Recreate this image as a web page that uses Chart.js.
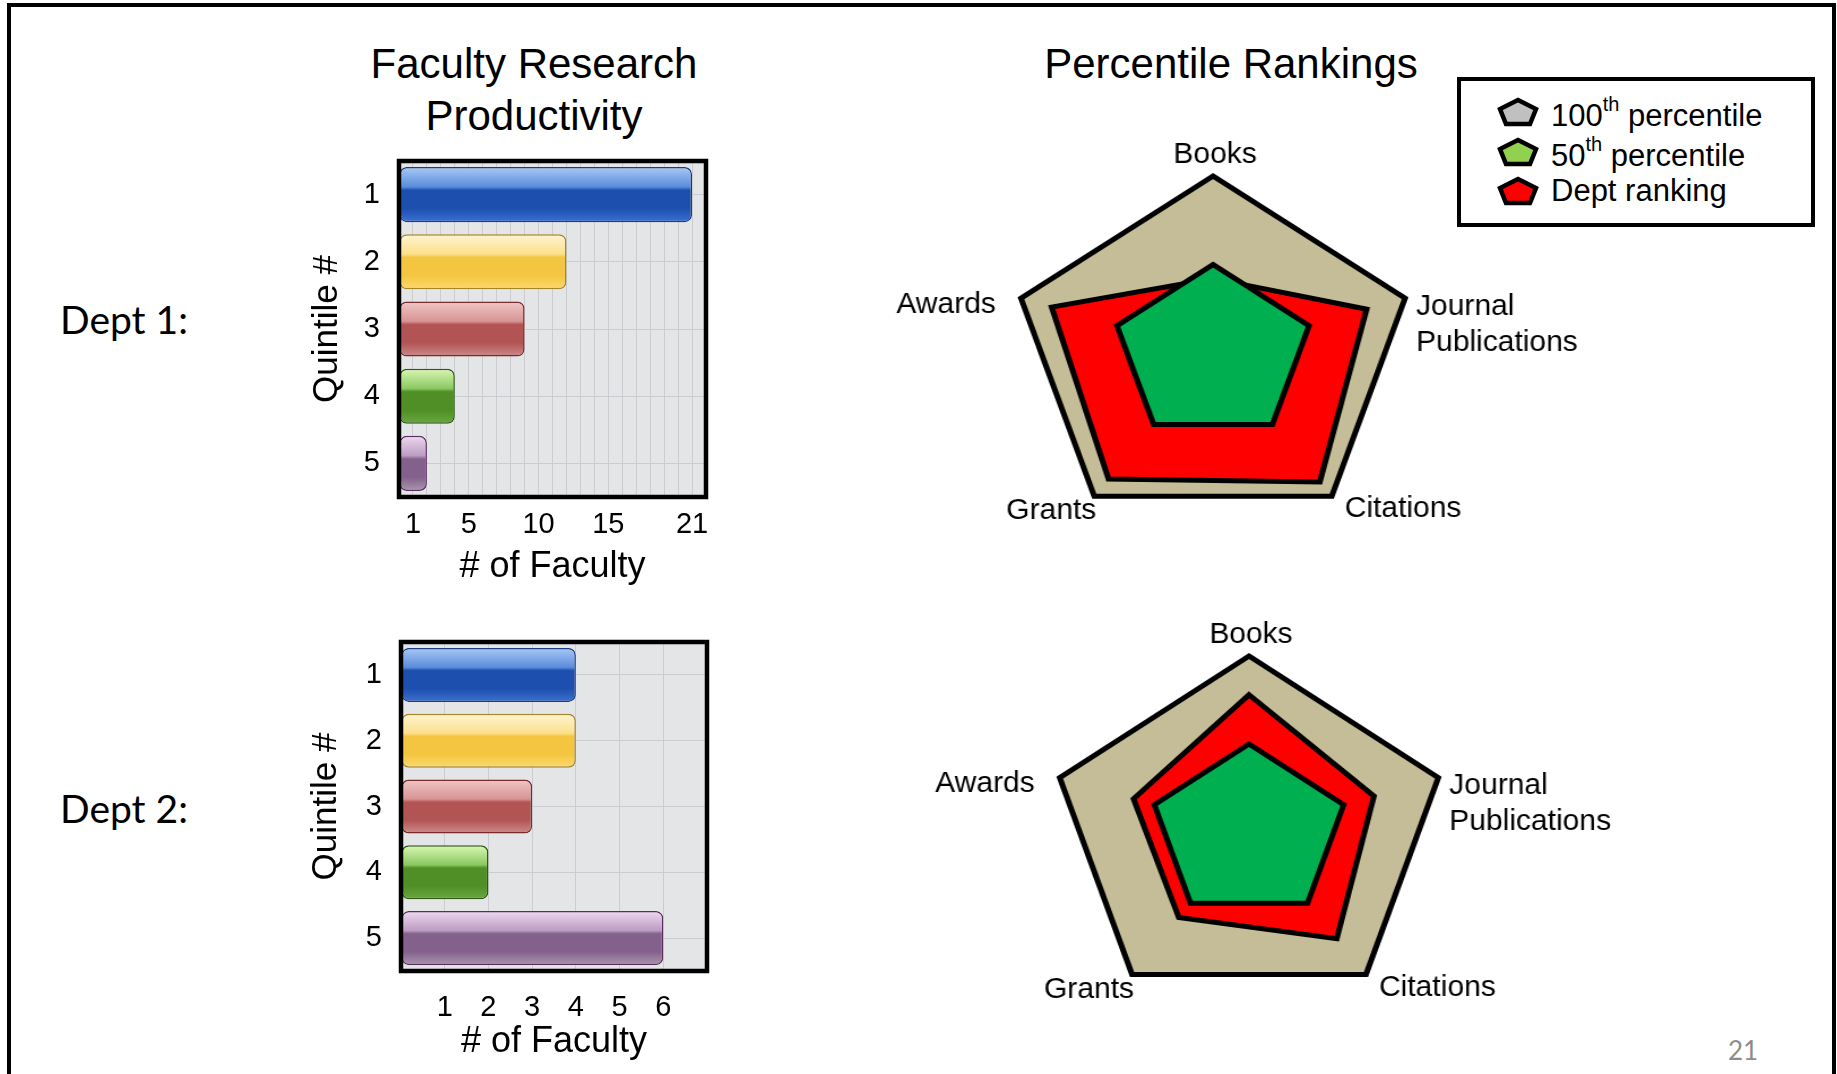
<!DOCTYPE html>
<html><head><meta charset="utf-8">
<script src="https://cdn.jsdelivr.net/npm/chart.js@4.4.1/dist/chart.umd.min.js"></script>
<style>
html,body{margin:0;padding:0;background:#fff;width:1837px;height:1074px;overflow:hidden;font-family:"Liberation Sans",Arial,sans-serif;color:#000;}
#frame{position:absolute;left:7px;top:3px;width:1829px;height:1200px;border:4px solid #000;box-sizing:border-box;}
.abs{position:absolute;}
.dept{font-family:Lato,"Open Sans",sans-serif;font-size:39px;line-height:48px;white-space:nowrap;}
#ft{left:284px;top:38px;width:500px;text-align:center;font-size:42px;line-height:52px;}
#pr{left:931px;top:40px;width:600px;text-align:center;font-size:42px;line-height:48px;}
#legend{left:1457px;top:77px;width:358px;height:150px;border:4px solid #000;box-sizing:border-box;background:#fff;}
.lrow{position:absolute;left:36px;height:40px;line-height:40px;font-size:31px;white-space:nowrap;display:flex;align-items:center;}
.lrow svg{margin-right:12px;}
.lrow sup{font-size:20px;position:relative;top:-4px;}
#pg{left:1728px;top:1034px;font-family:Lato,"Open Sans",sans-serif;font-size:26px;color:#8c8c8c;line-height:32px;}
.rwrap{position:absolute;transform-origin:50% 50%;}
</style></head>
<body>
<div id="frame"></div>
<div class="abs dept" style="left:60px;top:295px;">Dept 1:</div>
<div class="abs dept" style="left:60px;top:784px;">Dept 2:</div>
<div class="abs" id="ft">Faculty Research<br>Productivity</div>
<div class="abs" id="pr">Percentile Rankings</div>
<canvas id="bar1" class="abs" width="411" height="469" style="left:306px;top:120px;"></canvas>
<canvas id="bar2" class="abs" width="422" height="464" style="left:305px;top:600px;"></canvas>
<div class="rwrap" style="left:866px;top:116px;width:694px;height:474px;transform:scaleX(1.141);"><canvas id="radar1" width="694" height="474"></canvas></div>
<div class="rwrap" style="left:903px;top:596px;width:692px;height:472px;transform:scaleX(1.131);"><canvas id="radar2" width="692" height="472"></canvas></div>
<div class="abs" id="legend"></div>
<div class="abs" id="pg">21</div>
<script>
// ---------- data ----------
const quintiles = ['1', '2', '3', '4', '5'];
const dept1Faculty = [21, 12, 9, 4, 2];
const dept2Faculty = [4, 4, 3, 2, 6];
const dept1TickLabels = [1, 5, 10, 15, 21];
const dept2TickLabels = [1, 2, 3, 4, 5, 6];
const dept1AxisMax = 22;
const dept2AxisMax = 7;
const radarAxes = ['Books', ['Journal', 'Publications'], 'Citations', 'Grants', 'Awards'];
const pct100 = [100, 100, 100, 100, 100];
const pct50 = [50, 50, 50, 50, 50];
const dept1Rank = [42, 80, 90, 88, 84];
const dept2Rank = [78, 66, 75, 60, 61];
const legendNames = [['100', 'th', ' percentile'], ['50', 'th', ' percentile'], ['Dept ranking', '', '']];
const legendFills = ['#c0c0c0', '#92d050', '#ff0000'];

// ---------- styles ----------
const FONT = '"Liberation Sans", Arial, sans-serif';
Chart.defaults.font.family = FONT;
Chart.defaults.color = '#000';
const palette = [
  {hi:'#a9c8f5', mid:'#5a8ddc', base:'#1d4fae', low:'#3b70d2', bd:'#183c86'},
  {hi:'#fff4d2', mid:'#fbe08c', base:'#f4c540', low:'#fbd96f', bd:'#a5862a'},
  {hi:'#f0c6c6', mid:'#d89494', base:'#b25454', low:'#cc8c8c', bd:'#7a2c2c'},
  {hi:'#d9f8b2', mid:'#8cc862', base:'#4f8f26', low:'#6aa742', bd:'#2e5914'},
  {hi:'#f0d8f0', mid:'#bb9cc3', base:'#84608c', low:'#a998ac', bd:'#592e5f'}
];
const BAR_PCT = 0.82;

function glossFill(ctx) {
  const chart = ctx.chart, ys = chart.scales.y;
  const c = palette[ctx.dataIndex] || palette[0];
  if (!chart.chartArea || !ys || ctx.dataIndex === undefined) return c.base;
  const center = ys.getPixelForValue(ctx.dataIndex);
  const half = ys.height / quintiles.length * BAR_PCT / 2;
  const g = chart.ctx.createLinearGradient(0, center - half, 0, center + half);
  g.addColorStop(0, c.hi);
  g.addColorStop(0.36, c.mid);
  g.addColorStop(0.42, c.base);
  g.addColorStop(0.75, c.base);
  g.addColorStop(1, c.low);
  return g;
}

const plotBox = {
  id: 'plotBox',
  beforeDraw(chart) {
    const a = chart.chartArea, c = chart.ctx;
    c.save(); c.fillStyle = '#e4e5e7';
    c.fillRect(a.left, a.top, a.right - a.left, a.bottom - a.top);
    c.restore();
  },
  afterDraw(chart) {
    const a = chart.chartArea, c = chart.ctx;
    c.save(); c.strokeStyle = '#000'; c.lineWidth = 4.5;
    c.strokeRect(a.left, a.top, a.right - a.left, a.bottom - a.top);
    c.restore();
  }
};

function barChart(id, values, axisMax, tickLabels, o) {
  new Chart(document.getElementById(id), {
    type: 'bar',
    data: {labels: quintiles, datasets: [{
      data: values,
      backgroundColor: glossFill,
      borderColor: palette.map(p => p.bd),
      borderWidth: 1.5, borderRadius: 7, borderSkipped: false,
      barPercentage: BAR_PCT, categoryPercentage: 1
    }]},
    options: {
      indexAxis: 'y', responsive: false, animation: false,
      layout: {padding: {top: o.padTop, right: o.padRight, left: 0, bottom: 0}},
      plugins: {legend: {display: false}, tooltip: {enabled: false}, title: {display: false}},
      scales: {
        x: {
          min: 0, max: axisMax,
          ticks: {stepSize: 1, autoSkip: false, maxRotation: 0, padding: o.xPad, color: '#000',
            font: {size: 29}, callback: v => tickLabels.includes(v) ? String(v) : ''},
          grid: {color: '#cbcccf', lineWidth: 1, drawTicks: false},
          border: {display: false},
          title: {display: true, text: '# of Faculty', color: '#000', font: {size: 36}, padding: 0},
          afterFit: s => { s.height = o.xH; }
        },
        y: {
          ticks: {padding: 19, color: '#000', font: {size: 29}},
          grid: {offset: false, color: '#cbcccf', lineWidth: 1, drawTicks: false},
          border: {display: false},
          title: {display: true, text: 'Quintile #', color: '#000', font: {size: 35}, padding: 0},
          afterFit: s => { s.width = o.yW; }
        }
      }
    },
    plugins: [plotBox]
  });
}

barChart('bar1', dept1Faculty, dept1AxisMax, dept1TickLabels,
  {padTop: 41, padRight: 10, xPad: 11, xH: 92, yW: 93});
barChart('bar2', dept2Faculty, dept2AxisMax, dept2TickLabels,
  {padTop: 42, padRight: 10, xPad: 20, xH: 93, yW: 96});

// radar label placement (style only, visual px)
const labelPlace = [
  {align: 'center', dx: 2, dy: -21},
  {align: 'left', dx: 11, dy: 8},
  {align: 'left', dx: 13, dy: 13},
  {align: 'right', dx: 2, dy: 15},
  {align: 'right', dx: -25, dy: 6}
];
const radarLabels = {
  id: 'radarLabels',
  afterDraw(chart, args, opts) {
    const s = chart.scales.r, c = chart.ctx, sx = opts.sx || 1;
    c.save(); c.fillStyle = '#000'; c.font = '30px ' + FONT; c.textBaseline = 'middle';
    chart.data.labels.forEach((lab, i) => {
      const p = s.getPointPositionForValue(i, s.max);
      const L = labelPlace[i];
      c.textAlign = L.align;
      (Array.isArray(lab) ? lab : [lab]).forEach((t, j) => {
        c.save();
        c.translate(p.x + L.dx / sx, p.y + L.dy + j * 36);
        c.scale(1 / sx, 1);
        c.fillText(t, 0, 0);
        c.restore();
      });
    });
    c.restore();
  }
};

function radarChart(id, rank, sx) {
  const common = {borderColor: '#000', borderWidth: 5, pointRadius: 0, borderJoinStyle: 'miter', fill: true};
  new Chart(document.getElementById(id), {
    type: 'radar',
    data: {labels: radarAxes, datasets: [
      Object.assign({label: '100th percentile', data: pct100, backgroundColor: '#c4bd97', order: 2}, common),
      Object.assign({label: 'Dept ranking', data: rank, backgroundColor: '#ff0000', order: 1}, common),
      Object.assign({label: '50th percentile', data: pct50, backgroundColor: '#00b050', order: 0}, common)
    ]},
    options: {
      responsive: false, animation: false,
      layout: {padding: {left: 170, right: 170, top: 60, bottom: 60}},
      plugins: {legend: {display: false}, tooltip: {enabled: false}, radarLabels: {sx: sx}},
      scales: {r: {min: 0, max: 100, ticks: {display: false}, grid: {display: false},
        angleLines: {display: false}, pointLabels: {display: false}}}
    },
    plugins: [radarLabels]
  });
}
radarChart('radar1', dept1Rank, 1.141);
radarChart('radar2', dept2Rank, 1.131);

// legend
const lg = document.getElementById('legend');
const rowTops = [11, 51, 90];
legendNames.forEach((n, i) => {
  const row = document.createElement('div');
  row.className = 'lrow';
  row.style.top = rowTops[i] + 'px';
  row.innerHTML = '<svg width="42" height="30" viewBox="0 0 42 30"><polygon points="21,3 39,12 33,27 9,27 3,12" fill="' +
    legendFills[i] + '" stroke="#000" stroke-width="4.5" stroke-linejoin="miter"/></svg>' +
    '<span>' + n[0] + (n[1] ? '<sup>' + n[1] + '</sup>' : '') + n[2] + '</span>';
  lg.appendChild(row);
});
</script>
</body></html>
